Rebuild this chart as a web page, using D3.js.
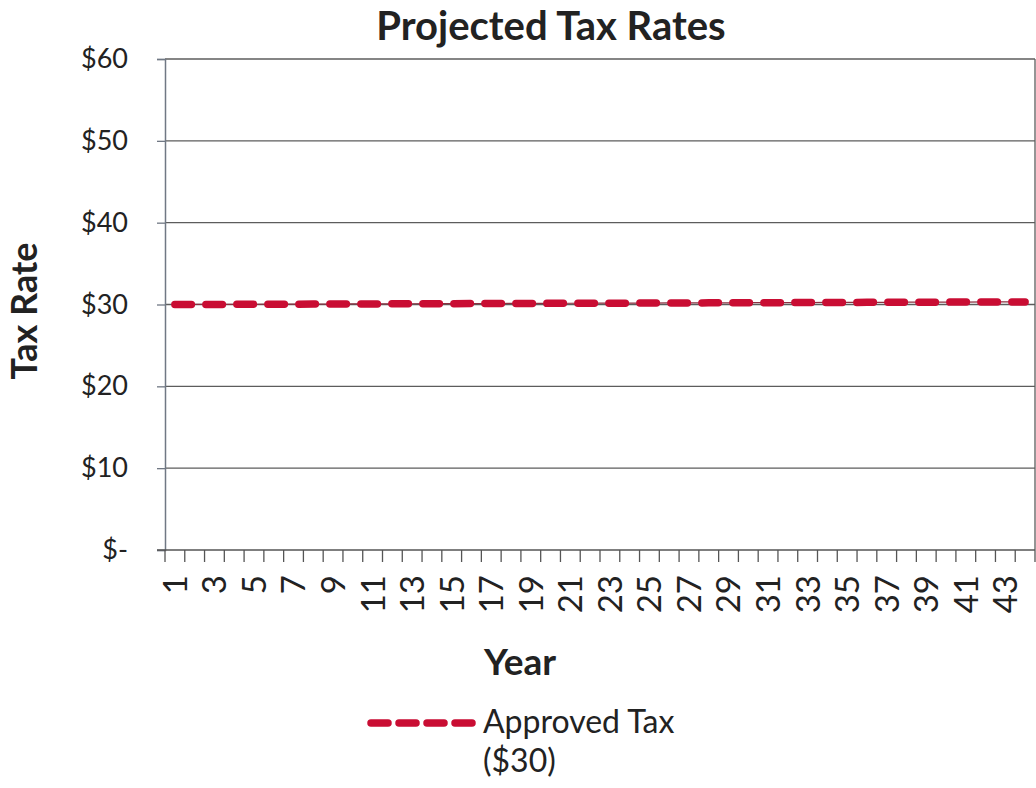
<!DOCTYPE html>
<html>
<head>
<meta charset="utf-8">
<script src="https://cdn.jsdelivr.net/npm/d3@7"></script>
<style>
  body { margin: 0; background: #fff; }
  text { font-family: Lato, "Open Sans", sans-serif; fill: #222; }
</style>
</head>
<body>
<div id="chart"></div>
<script>
// Chart data
const years = d3.range(1, 45);
const approvedTax = [
  30.00, 30.01, 30.01, 30.02, 30.03, 30.04, 30.04, 30.05, 30.06, 30.07,
  30.07, 30.08, 30.09, 30.10, 30.10, 30.11, 30.12, 30.13, 30.13, 30.14,
  30.15, 30.16, 30.16, 30.17, 30.18, 30.19, 30.19, 30.20, 30.21, 30.22,
  30.22, 30.23, 30.24, 30.25, 30.25, 30.26, 30.27, 30.28, 30.28, 30.29,
  30.30, 30.31, 30.31, 30.32
];
const yTicks = [0, 10, 20, 30, 40, 50, 60];
const yTickLabels = ["$-", "$10", "$20", "$30", "$40", "$50", "$60"];
const seriesName = ["Approved Tax", "($30)"];

const W = 1036, H = 788;
const plot = { left: 165, right: 1035, top: 59, bottom: 550 };
const red = "#c90d33";

const svg = d3.select("#chart").append("svg")
  .attr("width", W).attr("height", H);

const x = d3.scaleBand()
  .domain(years)
  .range([plot.left, plot.right])
  .padding(0);

const y = d3.scaleLinear()
  .domain([0, 60])
  .range([plot.bottom, plot.top]);

// Gridlines
svg.append("g")
  .selectAll("line")
  .data(yTicks.filter(d => d > 0))
  .join("line")
  .attr("x1", plot.left).attr("x2", plot.right)
  .attr("y1", d => y(d)).attr("y2", d => y(d))
  .attr("stroke", "#5c5c5c")
  .attr("stroke-width", 1.3);

// right border
svg.append("line")
  .attr("x1", plot.right).attr("x2", plot.right)
  .attr("y1", plot.top).attr("y2", plot.bottom)
  .attr("stroke", "#5c5c5c").attr("stroke-width", 1.3);

// Y axis
const yAxis = d3.axisLeft(y)
  .tickValues(yTicks)
  .tickSize(8)
  .tickFormat((d, i) => yTickLabels[i]);

const yG = svg.append("g")
  .attr("transform", `translate(${plot.left},0)`)
  .call(yAxis);
yG.select(".domain").attr("stroke", "#707884").attr("stroke-width", 1.5);
yG.selectAll(".tick line").attr("stroke", "#707884").attr("stroke-width", 1.3);
yG.selectAll(".tick text")
  .attr("x", -37)
  .style("font-size", "27px")
  .style("font-family", "Lato, sans-serif")
  .attr("fill", "#222");

// X axis: ticks on category boundaries, labels on every other category
const xG = svg.append("g")
  .attr("transform", `translate(0,${plot.bottom})`);
xG.append("line")
  .attr("x1", plot.left - 8).attr("x2", plot.right)
  .attr("stroke", "#555").attr("stroke-width", 1.5);
xG.selectAll(".xtick")
  .data(years.concat([45]))
  .join("line")
  .attr("class", "xtick")
  .attr("x1", d => d <= 44 ? x(d) : plot.right)
  .attr("x2", d => d <= 44 ? x(d) : plot.right)
  .attr("y1", 0).attr("y2", 12)
  .attr("stroke", "#555").attr("stroke-width", 1.3);
xG.selectAll(".xlabel")
  .data(years.filter(d => d % 2 === 1))
  .join("text")
  .attr("class", "xlabel")
  .attr("transform", d => `translate(${x(d) + x.bandwidth() / 2},${25}) rotate(-90)`)
  .attr("text-anchor", "end")
  .attr("dy", "0.36em")
  .style("font-size", "33px")
  .text(d => d);

// Line
const line = d3.line()
  .x((d, i) => x(years[i]) + x.bandwidth() / 2)
  .y(d => y(d));

svg.append("path")
  .datum(approvedTax)
  .attr("fill", "none")
  .attr("stroke", "#8a3040")
  .attr("stroke-width", 1.2)
  .attr("d", line);

svg.append("path")
  .datum(approvedTax)
  .attr("fill", "none")
  .attr("stroke", red)
  .attr("stroke-width", 7.5)
  .attr("stroke-linecap", "round")
  .attr("stroke-dasharray", "16.5 14.5")
  .attr("d", line);

// Title
svg.append("text")
  .attr("x", 551).attr("y", 40)
  .attr("text-anchor", "middle")
  .style("font-size", "40px")
  .style("font-weight", "bold")
  .text("Projected Tax Rates");

// Axis titles
svg.append("text")
  .attr("transform", "translate(37,311) rotate(-90)")
  .attr("text-anchor", "middle")
  .style("font-size", "36px")
  .style("font-weight", "bold")
  .text("Tax Rate");

svg.append("text")
  .attr("x", 520).attr("y", 675)
  .attr("text-anchor", "middle")
  .style("font-size", "37px")
  .style("font-weight", "bold")
  .text("Year");

// Legend
const leg = svg.append("g");
leg.append("line")
  .attr("x1", 371).attr("x2", 475)
  .attr("y1", 723).attr("y2", 723)
  .attr("stroke", red)
  .attr("stroke-width", 7.5)
  .attr("stroke-linecap", "round")
  .attr("stroke-dasharray", "17 11");
leg.selectAll("text")
  .data(seriesName)
  .join("text")
  .attr("x", 483)
  .attr("y", (d, i) => 733 + i * 39)
  .style("font-size", "32px")
  .text(d => d);
</script>
</body>
</html>
